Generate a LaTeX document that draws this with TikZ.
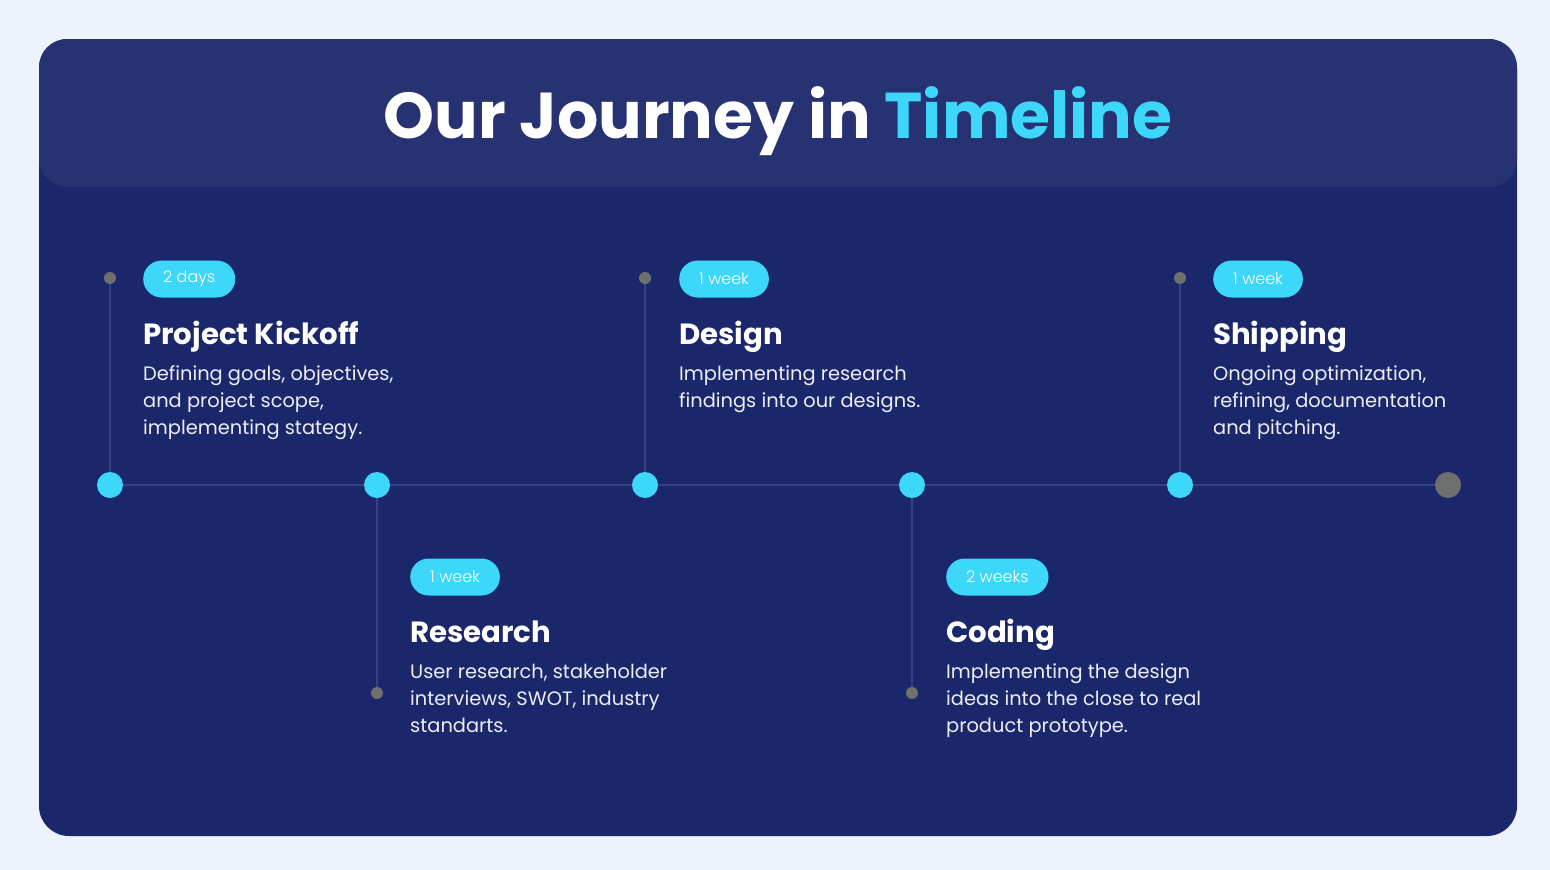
\documentclass[tikz,border=0pt]{standalone}
\usepackage{fontspec}
\setmainfont{Poppins}
\newfontfamily\poplight{Poppins Light}
\definecolor{pagebg}{HTML}{EDF3FD}
\definecolor{cardbg}{HTML}{1B276B}
\definecolor{headbg}{HTML}{263272}
\definecolor{cyanc}{HTML}{3DD7F9}
\definecolor{grayc}{HTML}{6E7070}
\definecolor{linec}{HTML}{354182}
\definecolor{txt}{HTML}{ECEEF6}
\tikzset{
  maindot/.style={circle, fill=cyanc, minimum size=26pt, inner sep=0pt},
  enddot/.style={circle, fill=grayc, minimum size=26pt, inner sep=0pt},
  smalldot/.style={circle, fill=grayc, minimum size=12pt, inner sep=0pt},
  conn/.style={draw=linec, line width=1.6pt},
  pill/.style={fill=cyanc, rounded corners=18.5pt, minimum height=37pt, inner xsep=20pt, inner ysep=0pt, text=white, font=\poplight\fontsize{16}{16}\selectfont, anchor=west},
  ttl/.style={text=white, font=\bfseries\fontsize{29.2}{30}\selectfont, anchor=base west, inner sep=0pt},
  desc/.style={text=txt, font=\fontsize{19.4}{27}\selectfont, align=left, anchor=base west, inner sep=0pt}
}
\begin{document}
\begin{tikzpicture}[x=1pt,y=-1pt]
\useasboundingbox (0,0) rectangle (1550,870);
\fill[pagebg] (0,0) rectangle (1550,870);
\fill[cardbg, rounded corners=30pt] (39,39) rectangle (1517,836);
\fill[headbg, rounded corners=28pt] (39,39) rectangle (1517,187);
\node[text=white, font=\bfseries\fontsize{64.8}{70}\selectfont, anchor=base, inner sep=0pt] (title) at (778,138) {Our Journey in \textcolor{cyanc}{Timeline}};

% coordinates
\coordinate (p1) at (110,485);
\coordinate (p2) at (377,485);
\coordinate (p3) at (645,485);
\coordinate (p4) at (912,485);
\coordinate (p5) at (1180,485);
\coordinate (p6) at (1448,485);
\coordinate (q1) at (110,278);
\coordinate (q2) at (377,693);
\coordinate (q3) at (645,278);
\coordinate (q4) at (912,693);
\coordinate (q5) at (1180,278);

\draw[conn] (p1) -- (p6);
\draw[conn] (p1) -- (q1);
\draw[conn] (p2) -- (q2);
\draw[conn] (p3) -- (q3);
\draw[conn] (p4) -- (q4);
\draw[conn] (p5) -- (q5);

\node[maindot] (d1) at (p1) {};
\node[maindot] (d2) at (p2) {};
\node[maindot] (d3) at (p3) {};
\node[maindot] (d4) at (p4) {};
\node[maindot] (d5) at (p5) {};
\node[enddot] (d6) at (p6) {};
\node[smalldot] (s1) at (q1) {};
\node[smalldot] (s2) at (q2) {};
\node[smalldot] (s3) at (q3) {};
\node[smalldot] (s4) at (q4) {};
\node[smalldot] (s5) at (q5) {};

% top items (desc anchored at the baseline of its last line)
\node[pill] (b1) at (143,279) {2 days};
\node[ttl] (t1) at (143,344) {Project Kickoff};
\node[desc] (x1) at (143,434) {Defining goals, objectives,\\and project scope,\\implementing stategy.};

\node[pill] (b3) at (679,279) {1 week};
\node[ttl] (t3) at (679,344) {Design};
\node[desc] (x3) at (679,407) {Implementing research\\findings into our designs.};

\node[pill] (b5) at (1213,279) {1 week};
\node[ttl] (t5) at (1213,344) {Shipping};
\node[desc] (x5) at (1213,434) {Ongoing optimization,\\refining, documentation\\and pitching.};

% bottom items
\node[pill] (b2) at (410,577) {1 week};
\node[ttl] (t2) at (410,642) {Research};
\node[desc] (x2) at (410,732) {User research, stakeholder\\interviews, SWOT, industry\\standarts.};

\node[pill] (b4) at (946,577) {2 weeks};
\node[ttl] (t4) at (946,642) {Coding};
\node[desc] (x4) at (946,732) {Implementing the design\\ideas into the close to real\\product prototype.};
\end{tikzpicture}
\end{document}
